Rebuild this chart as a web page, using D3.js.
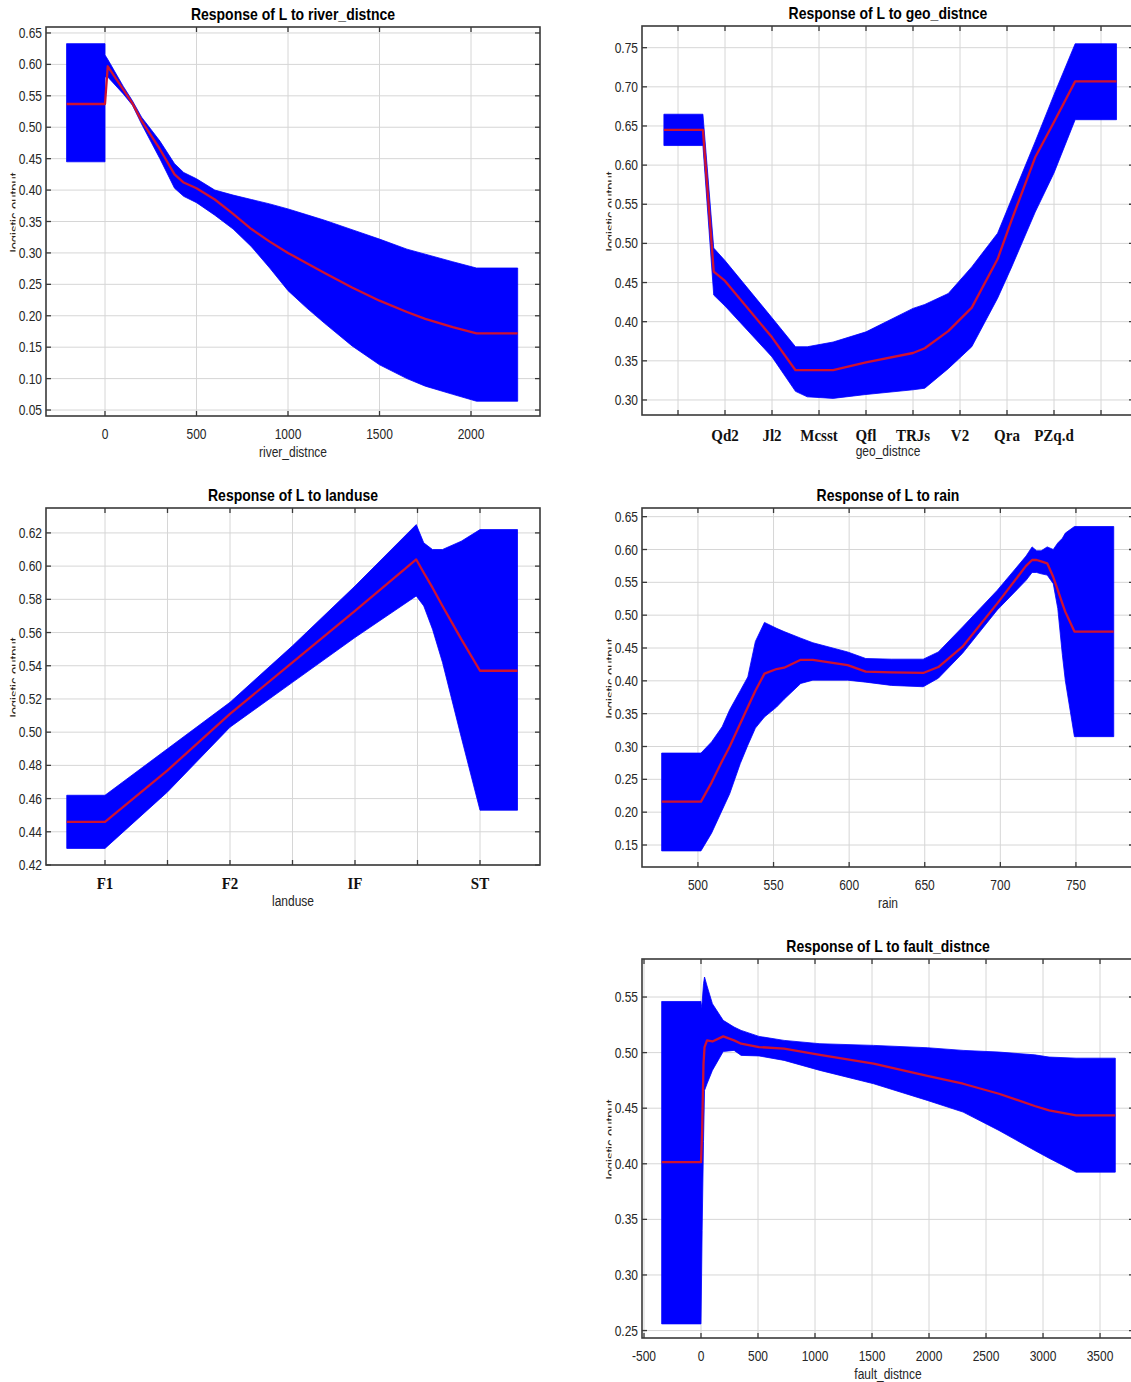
<!DOCTYPE html>
<html>
<head>
<meta charset="utf-8">
<script src="https://cdn.jsdelivr.net/npm/d3@7"></script>
<style>
  html, body { margin: 0; padding: 0; background: #ffffff; }
  svg { display: block; }
  text { font-family: "Liberation Sans", Arial, sans-serif; }
</style>
</head>
<body>
<script>
// ---------------- DATA ----------------
// river_distnce
const riverX     = [-210, 0, 0, 15, 100, 150, 200, 300, 380, 430, 500, 600, 700, 800, 900, 1000, 1100, 1200, 1350, 1500, 1650, 1750, 1900, 2030, 2255];
const riverUpper = [0.633, 0.633, 0.615, 0.608, 0.565, 0.542, 0.516, 0.478, 0.442, 0.428, 0.418, 0.400, 0.392, 0.385, 0.378, 0.370, 0.361, 0.352, 0.337, 0.322, 0.306, 0.298, 0.286, 0.276, 0.276];
const riverLower = [0.445, 0.445, 0.580, 0.580, 0.553, 0.535, 0.505, 0.450, 0.403, 0.390, 0.380, 0.360, 0.338, 0.310, 0.276, 0.240, 0.213, 0.188, 0.152, 0.122, 0.100, 0.088, 0.075, 0.064, 0.064];
const riverMean  = [0.537, 0.537, 0.537, 0.597, 0.560, 0.538, 0.510, 0.465, 0.425, 0.412, 0.403, 0.385, 0.362, 0.338, 0.318, 0.300, 0.284, 0.268, 0.245, 0.224, 0.206, 0.195, 0.182, 0.172, 0.172];
const riverXTicks = [0, 500, 1000, 1500, 2000];
const riverYTicks = [0.05, 0.10, 0.15, 0.20, 0.25, 0.30, 0.35, 0.40, 0.45, 0.50, 0.55, 0.60, 0.65];

// geo_distnce (categorical positions 1..10)
const geoX     = [0.70, 1.53, 1.76, 2.0, 3.0, 3.5, 3.75, 4.3, 5.0, 6.0, 6.25, 6.75, 7.25, 7.8, 8.1, 8.6, 9.0, 9.45, 10.33];
const geoUpper = [0.665, 0.665, 0.494, 0.478, 0.405, 0.368, 0.368, 0.374, 0.387, 0.417, 0.422, 0.436, 0.470, 0.513, 0.557, 0.630, 0.690, 0.755, 0.755];
const geoLower = [0.625, 0.625, 0.434, 0.420, 0.355, 0.311, 0.304, 0.302, 0.307, 0.313, 0.315, 0.340, 0.368, 0.430, 0.470, 0.540, 0.590, 0.658, 0.658];
const geoMean  = [0.645, 0.645, 0.464, 0.452, 0.380, 0.338, 0.338, 0.338, 0.348, 0.360, 0.366, 0.388, 0.418, 0.480, 0.530, 0.610, 0.655, 0.707, 0.707];
const geoXTicks = [1, 2, 3, 4, 5, 6, 7, 8, 9, 10];
const geoCategories = ["", "Qd2", "Jl2", "Mcsst", "Qfl", "TRJs", "V2", "Qra", "PZq.d", ""];
const geoYTicks = [0.30, 0.35, 0.40, 0.45, 0.50, 0.55, 0.60, 0.65, 0.70, 0.75];

// landuse (categorical positions 1..4)
const landX     = [0.694, 1.0, 1.5, 2.0, 2.5, 3.0, 3.49, 3.55, 3.62, 3.7, 3.85, 4.0, 4.3];
const landUpper = [0.462, 0.462, 0.490, 0.518, 0.552, 0.588, 0.625, 0.614, 0.610, 0.610, 0.615, 0.622, 0.622];
const landLower = [0.430, 0.430, 0.464, 0.503, 0.530, 0.557, 0.582, 0.576, 0.562, 0.542, 0.497, 0.453, 0.453];
const landMean  = [0.446, 0.446, 0.477, 0.511, 0.542, 0.573, 0.604, 0.596, 0.587, 0.576, 0.556, 0.537, 0.537];
const landXTicks = [1, 1.5, 2, 2.5, 3, 3.5, 4];
const landCategories = ["F1", "", "F2", "", "IF", "", "ST"];
const landYTicks = [0.42, 0.44, 0.46, 0.48, 0.50, 0.52, 0.54, 0.56, 0.58, 0.60, 0.62];

// rain
const rainX     = [476, 502, 509, 516, 521, 528, 533, 538, 544, 552, 557, 568, 576, 599, 611, 628, 649, 659, 675, 698, 717, 721, 724, 727, 731, 735, 738, 741, 743, 749, 775];
const rainUpper = [0.290, 0.290, 0.307, 0.330, 0.356, 0.385, 0.406, 0.460, 0.489, 0.480, 0.475, 0.465, 0.458, 0.444, 0.434, 0.433, 0.433, 0.444, 0.482, 0.538, 0.590, 0.604, 0.598, 0.598, 0.604, 0.600, 0.610, 0.617, 0.625, 0.635, 0.635];
const rainLower = [0.141, 0.141, 0.168, 0.203, 0.228, 0.274, 0.302, 0.328, 0.345, 0.360, 0.372, 0.396, 0.401, 0.401, 0.398, 0.393, 0.391, 0.404, 0.442, 0.508, 0.553, 0.565, 0.565, 0.563, 0.561, 0.548, 0.510, 0.440, 0.400, 0.315, 0.315];
const rainMean  = [0.216, 0.216, 0.245, 0.278, 0.300, 0.335, 0.360, 0.385, 0.411, 0.418, 0.420, 0.432, 0.432, 0.424, 0.414, 0.413, 0.412, 0.421, 0.452, 0.518, 0.575, 0.584, 0.584, 0.582, 0.579, 0.558, 0.538, 0.518, 0.505, 0.475, 0.475];
const rainXTicks = [500, 550, 600, 650, 700, 750];
const rainYTicks = [0.15, 0.20, 0.25, 0.30, 0.35, 0.40, 0.45, 0.50, 0.55, 0.60, 0.65];

// fault_distnce
const faultX     = [-345, 0, 0, 10, 22, 31, 53, 100, 195, 290, 352, 509, 729, 1043, 1514, 1985, 2299, 2613, 2927, 3053, 3290, 3634];
const faultUpper = [0.546, 0.546, 0.540, 0.545, 0.562, 0.568, 0.560, 0.544, 0.529, 0.523, 0.520, 0.5146, 0.511, 0.508, 0.5065, 0.5044, 0.502, 0.5005, 0.498, 0.496, 0.495, 0.495];
const faultLower = [0.256, 0.256, 0.256, 0.340, 0.420, 0.466, 0.472, 0.484, 0.501, 0.502, 0.4975, 0.497, 0.493, 0.484, 0.472, 0.457, 0.4465, 0.430, 0.412, 0.405, 0.3925, 0.3925];
const faultMean  = [0.4015, 0.4015, 0.4015, 0.430, 0.490, 0.505, 0.511, 0.510, 0.5146, 0.511, 0.508, 0.505, 0.5035, 0.498, 0.490, 0.479, 0.472, 0.463, 0.452, 0.448, 0.4435, 0.4435];
const faultXTicks = [-500, 0, 500, 1000, 1500, 2000, 2500, 3000, 3500];
const faultYTicks = [0.25, 0.30, 0.35, 0.40, 0.45, 0.50, 0.55];

// ---------------- LAYOUT ----------------
const W = 1131, H = 1382;
const STRETCH = 1.15;   // reference text looks vertically stretched
const svg = d3.select("body").append("svg").attr("width", W).attr("height", H);

const panels = [
  { id: "river", title: "Response of L to river_distnce", xLabel: "river_distnce",
    box: [46, 540, 27, 416], xDomain: [-322.4, 2377], yDomain: [0.0405, 0.6595],
    x: riverX, up: riverUpper, lo: riverLower, mean: riverMean,
    xTicks: riverXTicks, xCats: null, yTicks: riverYTicks, yFmt: ".2f" },
  { id: "geo", title: "Response of L to geo_distnce", xLabel: "geo_distnce",
    box: [642, 1134, 26, 415], xDomain: [0.234, 10.702], yDomain: [0.2808, 0.7777],
    x: geoX, up: geoUpper, lo: geoLower, mean: geoMean,
    xTicks: geoXTicks, xCats: geoCategories, yTicks: geoYTicks, yFmt: ".2f" },
  { id: "land", title: "Response of L to landuse", xLabel: "landuse",
    box: [46, 540, 508, 865], xDomain: [0.528, 4.48], yDomain: [0.42, 0.635],
    x: landX, up: landUpper, lo: landLower, mean: landMean,
    xTicks: landXTicks, xCats: landCategories, yTicks: landYTicks, yFmt: ".2f" },
  { id: "rain", title: "Response of L to rain", xLabel: "rain",
    box: [642, 1134, 508, 867], xDomain: [463, 788.4], yDomain: [0.1165, 0.6632],
    x: rainX, up: rainUpper, lo: rainLower, mean: rainMean,
    xTicks: rainXTicks, xCats: null, yTicks: rainYTicks, yFmt: ".2f" },
  { id: "fault", title: "Response of L to fault_distnce", xLabel: "fault_distnce",
    box: [642, 1134, 959, 1338], xDomain: [-517.5, 3798], yDomain: [0.2433, 0.5842],
    x: faultX, up: faultUpper, lo: faultLower, mean: faultMean,
    xTicks: faultXTicks, xCats: null, yTicks: faultYTicks, yFmt: ".2f" }
];

const TXT = "#262626";
const GRID = "#d6d6d6";
const AXIS = "#3a3a3a";
const place = (x, y) => `translate(${x},${y}) scale(1,${STRETCH})`;

panels.forEach(p => {
  const [x0, x1, y0, y1] = p.box;
  const xs = d3.scaleLinear().domain(p.xDomain).range([x0, x1]);
  const ys = d3.scaleLinear().domain(p.yDomain).range([y1, y0]);
  const g = svg.append("g");

  const clipId = "clip-" + p.id;
  svg.append("clipPath").attr("id", clipId)
    .append("rect").attr("x", x0).attr("y", y0).attr("width", x1 - x0).attr("height", y1 - y0);

  // grid
  const grid = g.append("g");
  grid.selectAll("line.gx").data(p.xTicks).join("line")
    .attr("x1", d => xs(d)).attr("x2", d => xs(d)).attr("y1", y0).attr("y2", y1)
    .attr("stroke", GRID).attr("stroke-width", 1);
  grid.selectAll("line.gy").data(p.yTicks).join("line")
    .attr("class", "gy")
    .attr("x1", x0).attr("x2", x1).attr("y1", d => ys(d)).attr("y2", d => ys(d))
    .attr("stroke", GRID).attr("stroke-width", 1);

  // band and mean
  const pts = p.x.map((v, i) => ({ x: v, up: p.up[i], lo: p.lo[i], m: p.mean[i] }));
  const plot = g.append("g").attr("clip-path", `url(#${clipId})`);
  plot.append("path").datum(pts)
    .attr("d", d3.area().x(d => xs(d.x)).y0(d => ys(d.lo)).y1(d => ys(d.up)))
    .attr("fill", "#0000ff").attr("stroke", "#0000ff").attr("stroke-width", 0.8);
  plot.append("path").datum(pts)
    .attr("d", d3.line().x(d => xs(d.x)).y(d => ys(d.m)))
    .attr("fill", "none").attr("stroke", "#cf1230").attr("stroke-width", 2.3)
    .attr("stroke-linejoin", "round");

  // frame
  g.append("rect").attr("x", x0).attr("y", y0).attr("width", x1 - x0).attr("height", y1 - y0)
    .attr("fill", "none").attr("stroke", AXIS).attr("stroke-width", 1.6);

  // inward tick marks
  const tl = 5;
  const tk = g.append("g").attr("stroke", AXIS).attr("stroke-width", 1.3);
  p.xTicks.forEach(t => {
    tk.append("line").attr("x1", xs(t)).attr("x2", xs(t)).attr("y1", y1).attr("y2", y1 - tl);
    tk.append("line").attr("x1", xs(t)).attr("x2", xs(t)).attr("y1", y0).attr("y2", y0 + tl);
  });
  p.yTicks.forEach(t => {
    tk.append("line").attr("x1", x0).attr("x2", x0 + tl).attr("y1", ys(t)).attr("y2", ys(t));
    tk.append("line").attr("x1", x1).attr("x2", x1 - tl).attr("y1", ys(t)).attr("y2", ys(t));
  });

  // y tick labels
  const fmt = d3.format(p.yFmt);
  g.selectAll("text.yl").data(p.yTicks).join("text")
    .attr("transform", d => place(x0 - 4, ys(d) + 5))
    .attr("text-anchor", "end").attr("font-size", 12).attr("fill", TXT)
    .text(d => fmt(d));

  // x tick labels
  if (p.xCats) {
    g.selectAll("text.xc").data(p.xTicks).join("text")
      .attr("transform", d => place(xs(d), y1 + (p.id === "geo" ? 26 : 24)))
      .attr("text-anchor", "middle")
      .style("font-family", '"Liberation Serif", "Times New Roman", serif')
      .attr("font-weight", "bold").attr("font-size", 15).attr("fill", "#111")
      .text((d, i) => p.xCats[i]);
  } else {
    g.selectAll("text.xl").data(p.xTicks).join("text")
      .attr("transform", d => place(xs(d), y1 + 23))
      .attr("text-anchor", "middle").attr("font-size", 12).attr("fill", TXT)
      .text(d => d);
  }

  // x axis label
  g.append("text").attr("transform", place((x0 + Math.min(x1, W + 3)) / 2, y1 + 41))
    .attr("text-anchor", "middle").attr("font-size", 12).attr("fill", TXT)
    .text(p.xLabel);

  // title
  g.append("text").attr("transform", place((x0 + x1) / 2, y0 - 7))
    .attr("text-anchor", "middle").attr("font-size", 14).attr("font-weight", "bold").attr("fill", "#000")
    .text(p.title);

  // y axis label (partly hidden behind the tick labels)
  const lclip = "lclip-" + p.id;
  svg.append("clipPath").attr("id", lclip)
    .append("rect").attr("x", x0 - 40).attr("y", y0).attr("width", 9.5).attr("height", y1 - y0);
  const cy = (y0 + y1) / 2 - 9;
  g.append("g").attr("clip-path", `url(#${lclip})`)
    .append("text")
    .attr("transform", `translate(${x0 - 27.5},${cy}) rotate(-90)`)
    .attr("text-anchor", "middle").attr("font-size", 13).attr("fill", TXT)
    .text("logistic output");
});
</script>
</body>
</html>
